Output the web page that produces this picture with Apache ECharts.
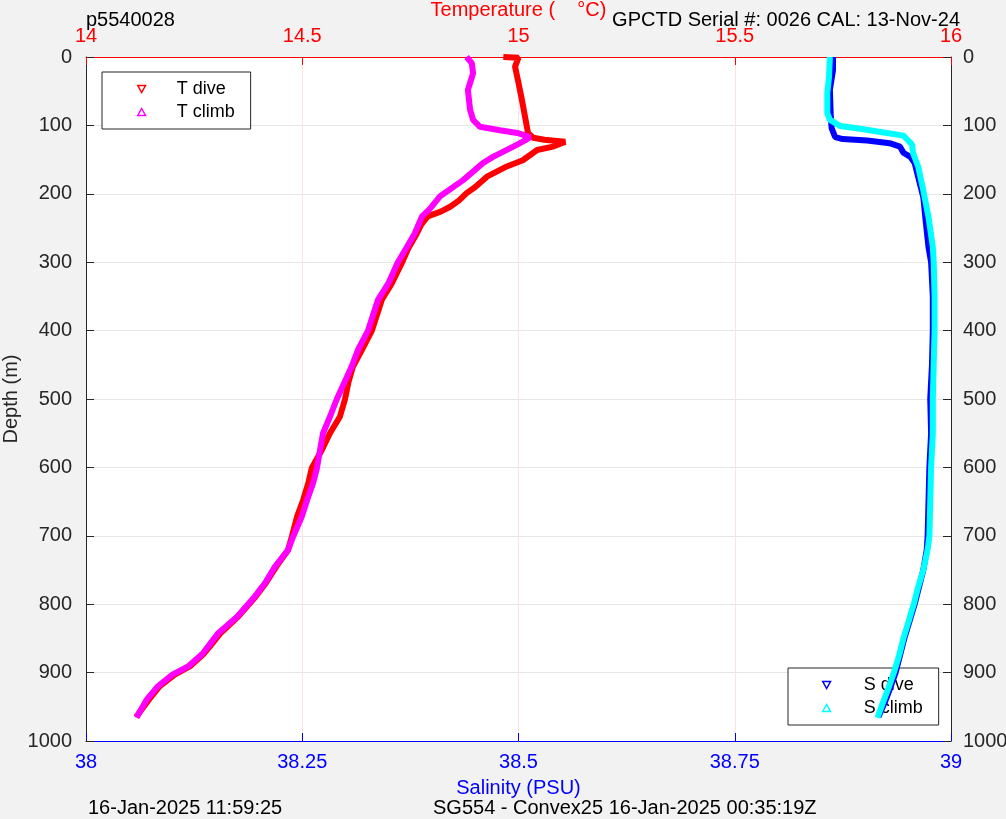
<!DOCTYPE html>
<html>
<head>
<meta charset="utf-8">
<script src="https://cdn.jsdelivr.net/npm/echarts@6/dist/echarts.min.js"></script>
<style>
html,body{margin:0;padding:0;background:#f2f2f2;}
#c{width:1006px;height:819px;}
</style>
</head>
<body>
<div id="c"></div>
<script>
// ---- data: [value, depth] pairs ----
var tDiveDepth = [0,1,14,38,63,87,111,118,121,124,127,131,136,151,160,175,190,199,210,219,226,233,245,258,280,300,331,355,400,428,453,475,500,526,550,575,601,623,648,672,701,721,745,769,789,818,843,862,872,891,903,920,940,965];
var tDiveTemp  = [14.965,15.0,14.992,15.0,15.008,15.015,15.022,15.034,15.06,15.108,15.095,15.08,15.043,15.01,14.973,14.927,14.9,14.88,14.862,14.842,14.82,14.79,14.775,14.765,14.745,14.731,14.707,14.684,14.661,14.638,14.617,14.607,14.599,14.587,14.564,14.545,14.522,14.514,14.502,14.488,14.476,14.467,14.44,14.416,14.392,14.352,14.31,14.286,14.273,14.24,14.205,14.17,14.145,14.116];

var tClimbDepth = [0,9,24,38,48,77,92,102,107,111,117,122,128,146,155,180,204,222,233,258,280,300,331,355,400,428,453,500,526,550,575,601,623,648,672,701,721,745,769,789,818,843,862,872,891,903,920,940,962,966];
var tClimbTemp  = [14.88,14.892,14.895,14.888,14.883,14.888,14.895,14.911,14.957,14.997,15.027,15.015,14.997,14.941,14.918,14.872,14.818,14.795,14.777,14.76,14.74,14.721,14.699,14.675,14.652,14.629,14.614,14.58,14.564,14.548,14.541,14.534,14.525,14.511,14.499,14.479,14.467,14.437,14.414,14.39,14.35,14.305,14.282,14.27,14.236,14.2,14.166,14.14,14.12,14.118];

var sDiveDepth = [0,19,48,87,104,117,120,122,126,131,140,146,155,175,205,243,278,300,350,400,450,500,550,600,650,700,720,750,775,800,825,850,875,900,925,945,965];
var sDiveSal   = [38.8636,38.8636,38.860,38.861,38.862,38.866,38.875,38.903,38.929,38.941,38.945,38.953,38.958,38.962,38.968,38.971,38.974,38.977,38.979,38.979,38.978,38.976,38.977,38.975,38.974,38.973,38.972,38.968,38.963,38.958,38.952,38.946,38.941,38.936,38.929,38.923,38.916];

var sClimbDepth = [0,29,53,82,92,101,105,111,115,128,140,160,195,234,278,300,350,400,450,500,550,600,650,700,720,750,775,800,825,850,875,900,925,945,966];
var sClimbSal   = [38.860,38.859,38.857,38.857,38.860,38.872,38.895,38.926,38.945,38.955,38.956,38.962,38.968,38.974,38.979,38.980,38.981,38.981,38.980,38.979,38.979,38.977,38.976,38.975,38.973,38.968,38.962,38.957,38.951,38.945,38.940,38.934,38.927,38.921,38.915];

var tempTicks = [14, 14.5, 15, 15.5, 16];
var salTicks = [38, 38.25, 38.5, 38.75, 39];
var depthTicks = [0,100,200,300,400,500,600,700,800,900,1000];

function pairs(vals, depths){ return vals.map(function(v,i){ return [v, depths[i]]; }); }
function plain(v){ return String(v); }

var FONT = "'Liberation Sans', Arial, Helvetica, sans-serif";
var DARK = '#262626';
var downTri = 'path://M0,0L10,0L5,9Z';
var upTri = 'path://M5,0L10,9L0,9Z';

var chart = echarts.init(document.getElementById('c'), null, {renderer:'canvas'});
chart.setOption({
  backgroundColor: '#f2f2f2',
  animation: false,
  textStyle: {fontFamily: FONT},
  grid: {left: 86, right: 55, top: 57, bottom: 78, show: true, backgroundColor: '#ffffff', borderWidth: 0,
         containLabel: false, outerBoundsMode: 'none'},
  xAxis: [
    {
      type: 'value', position: 'top', min: tempTicks[0], max: tempTicks[tempTicks.length-1], interval: 0.5,
      name: 'Temperature (    \u00B0C)', nameLocation: 'middle', nameGap: 37, nameMoveOverlap: false,
      nameTextStyle: {color: '#ff0000', fontSize: 20, fontFamily: FONT},
      axisLine: {show: true, onZero: false, lineStyle: {color: '#ff0000', width: 1}},
      axisTick: {show: true, inside: true, length: 8, lineStyle: {color: '#ff0000'}},
      axisLabel: {color: '#ff0000', fontSize: 20, margin: 11, fontFamily: FONT, formatter: plain},
      splitLine: {show: true, lineStyle: {color: '#ffe2e2', width: 1}}
    },
    {
      type: 'value', position: 'bottom', min: salTicks[0], max: salTicks[salTicks.length-1], interval: 0.25,
      name: 'Salinity (PSU)', nameLocation: 'middle', nameGap: 37, nameMoveOverlap: false,
      nameTextStyle: {color: '#0000ff', fontSize: 20, fontFamily: FONT},
      axisLine: {show: true, onZero: false, lineStyle: {color: '#0000ff', width: 1}},
      axisTick: {show: true, inside: true, length: 8, lineStyle: {color: '#0000ff'}},
      axisLabel: {color: '#0000ff', fontSize: 20, margin: 11, fontFamily: FONT, formatter: plain},
      splitLine: {show: false}
    }
  ],
  yAxis: [
    {
      type: 'value', inverse: true, min: depthTicks[0], max: depthTicks[depthTicks.length-1], interval: 100, position: 'left',
      name: 'Depth (m)', nameLocation: 'middle', nameGap: 65, nameRotate: 90, nameMoveOverlap: false,
      nameTextStyle: {color: DARK, fontSize: 20, fontFamily: FONT},
      axisLine: {show: true, onZero: false, lineStyle: {color: DARK, width: 1}},
      axisTick: {show: true, inside: true, length: 8, lineStyle: {color: DARK}},
      axisLabel: {color: DARK, fontSize: 20, margin: 14, fontFamily: FONT, formatter: plain},
      splitLine: {show: true, lineStyle: {color: '#e6e6e6', width: 1}}
    },
    {
      type: 'value', inverse: true, min: depthTicks[0], max: depthTicks[depthTicks.length-1], interval: 100, position: 'right',
      axisLine: {show: true, onZero: false, lineStyle: {color: DARK, width: 1}},
      axisTick: {show: true, inside: true, length: 8, lineStyle: {color: DARK}},
      axisLabel: {color: DARK, fontSize: 20, margin: 12, fontFamily: FONT, formatter: plain},
      splitLine: {show: false}
    }
  ],
  legend: [
    {
      orient: 'vertical', left: 102, top: 72, padding: [7, 16, 7, 35], itemGap: 3, z: 1,
      itemWidth: 8, itemHeight: 7, borderColor: DARK, borderWidth: 1, backgroundColor: '#ffffff', borderRadius: 0,
      textStyle: {fontSize: 18, lineHeight: 20, color: '#000', padding: [0,0,0,26], fontFamily: FONT},
      selectedMode: false,
      data: [
        {name: 'T dive', icon: downTri, itemStyle: {color: '#ffffff', borderColor: '#ff0000', borderWidth: 1.5}},
        {name: 'T climb', icon: upTri, itemStyle: {color: '#ffffff', borderColor: '#ff00ff', borderWidth: 1.5}}
      ]
    },
    {
      orient: 'vertical', left: 788, top: 668, padding: [7, 16, 7, 34], itemGap: 3, z: 1,
      itemWidth: 8, itemHeight: 7, borderColor: DARK, borderWidth: 1, backgroundColor: '#ffffff', borderRadius: 0,
      textStyle: {fontSize: 18, lineHeight: 20, color: '#000', padding: [0,0,0,28], fontFamily: FONT},
      selectedMode: false,
      data: [
        {name: 'S dive', icon: downTri, itemStyle: {color: '#ffffff', borderColor: '#0000ff', borderWidth: 1.5}},
        {name: 'S climb', icon: upTri, itemStyle: {color: '#ffffff', borderColor: '#00ffff', borderWidth: 1.5}}
      ]
    }
  ],
  graphic: [
    {type: 'text', left: 86, top: 10, style: {text: 'p5540028', fontSize: 20, fontFamily: FONT, fill: '#000'}},
    {type: 'text', right: 46, top: 10, style: {text: 'GPCTD Serial #: 0026 CAL: 13-Nov-24', fontSize: 20, fontFamily: FONT, fill: '#000'}},
    {type: 'text', left: 88, top: 798, style: {text: '16-Jan-2025 11:59:25', fontSize: 20, fontFamily: FONT, fill: '#000'}},
    {type: 'text', left: 433, top: 798, style: {text: 'SG554 - Convex25 16-Jan-2025 00:35:19Z', fontSize: 20, fontFamily: FONT, fill: '#000'}}
  ],
  series: [
    {name: 'T dive', type: 'line', xAxisIndex: 0, yAxisIndex: 0, data: pairs(tDiveTemp, tDiveDepth),
     showSymbol: false, symbol: 'none', lineStyle: {color: '#ff0000', width: 6}, itemStyle: {color: '#ff0000'}, z: 2},
    {name: 'T climb', type: 'line', xAxisIndex: 0, yAxisIndex: 0, data: pairs(tClimbTemp, tClimbDepth),
     showSymbol: false, symbol: 'none', lineStyle: {color: '#ff00ff', width: 6}, itemStyle: {color: '#ff00ff'}, z: 3},
    {name: 'S dive', type: 'line', xAxisIndex: 1, yAxisIndex: 0, data: pairs(sDiveSal, sDiveDepth),
     showSymbol: false, symbol: 'none', lineStyle: {color: '#0000ff', width: 6}, itemStyle: {color: '#0000ff'}, z: 2},
    {name: 'S climb', type: 'line', xAxisIndex: 1, yAxisIndex: 0, data: pairs(sClimbSal, sClimbDepth),
     showSymbol: false, symbol: 'none', lineStyle: {color: '#00ffff', width: 6}, itemStyle: {color: '#00ffff'}, z: 3}
  ]
});
</script>
</body>
</html>
